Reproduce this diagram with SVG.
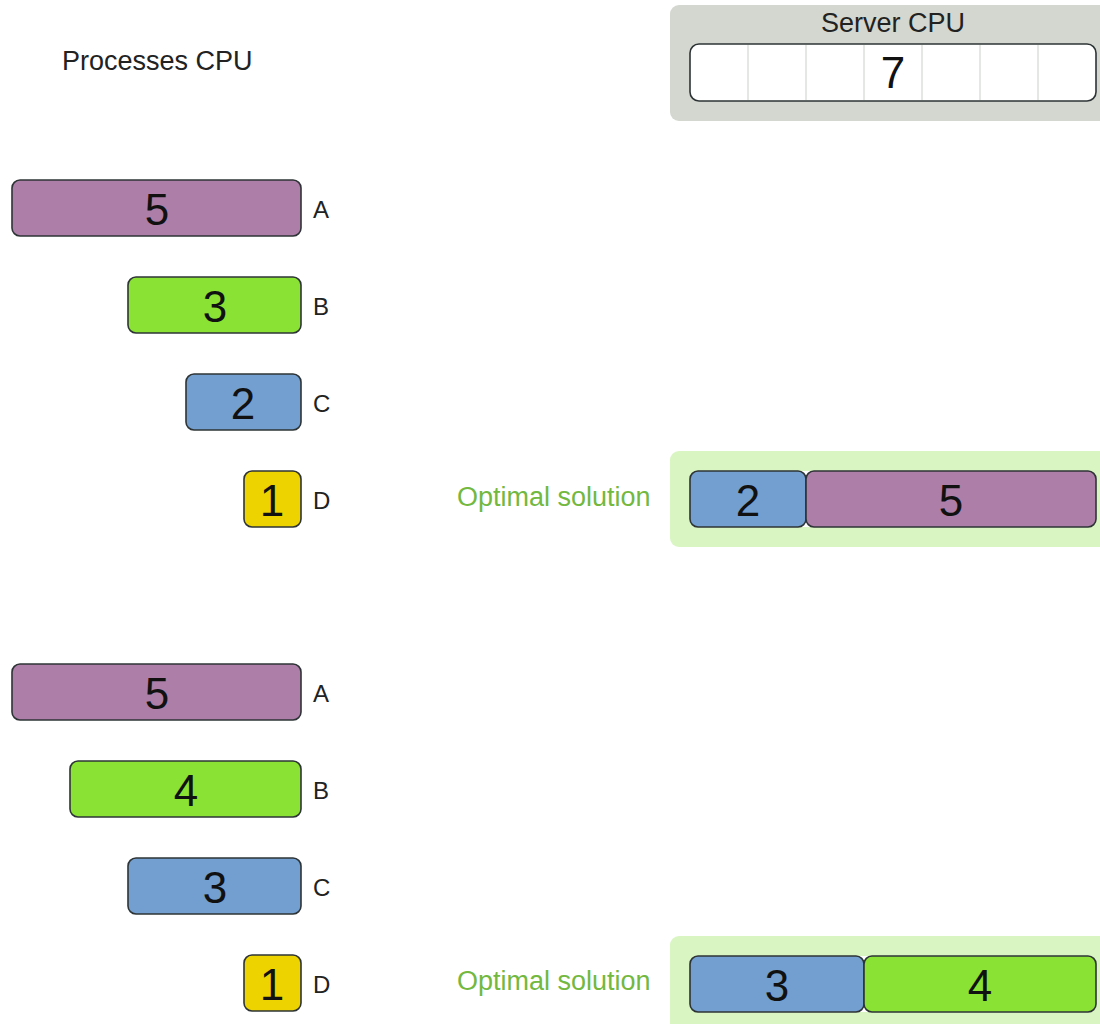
<svg xmlns="http://www.w3.org/2000/svg" width="1100" height="1024" viewBox="0 0 1100 1024">
  <style>
    text { font-family: "Liberation Sans", Arial, sans-serif; }
    .title { font-size: 27px; fill: #222; }
    .num { font-size: 44px; fill: #111; text-anchor: middle; }
    .lbl { font-size: 24px; fill: #222; }
    .opt { font-size: 27px; fill: #73b83f; }
    .bar { stroke: #2e3436; stroke-width: 1.6; }
    .a { fill: #ad7fa8; }
    .b { fill: #8ae234; }
    .c { fill: #729fcf; }
    .d { fill: #edd400; }
    .cell { stroke: #d3d7cf; stroke-width: 1.2; }
  </style>

  <rect width="1100" height="1024" fill="#ffffff"/>

  <!-- headings -->
  <text class="title" x="62" y="70">Processes CPU</text>

  <!-- server capacity: 7 units of 58px -->
  <g id="server">
    <rect x="670" y="5" width="450" height="116" rx="9" fill="#d3d7cf"/>
    <text class="title" x="893" y="32" text-anchor="middle">Server CPU</text>
    <rect x="690" y="44" width="406" height="57" rx="9" fill="#ffffff"/>
    <g class="cell">
      <line x1="748" y1="45" x2="748" y2="100"/>
      <line x1="806" y1="45" x2="806" y2="100"/>
      <line x1="864" y1="45" x2="864" y2="100"/>
      <line x1="922" y1="45" x2="922" y2="100"/>
      <line x1="980" y1="45" x2="980" y2="100"/>
      <line x1="1038" y1="45" x2="1038" y2="100"/>
    </g>
    <rect class="bar" x="690" y="44" width="406" height="57" rx="9" fill="none"/>
    <text class="num" x="893" y="88">7</text>
  </g>

  <!-- first data set -->
  <g id="proc1-a">
    <rect class="bar a" x="12" y="180" width="289" height="56" rx="8"/>
    <text class="num" x="157" y="225">5</text>
    <text class="lbl" x="313" y="218">A</text>
  </g>
  <g id="proc1-b">
    <rect class="bar b" x="128" y="277" width="173" height="56" rx="8"/>
    <text class="num" x="215" y="322">3</text>
    <text class="lbl" x="313" y="315">B</text>
  </g>
  <g id="proc1-c">
    <rect class="bar c" x="186" y="374" width="115" height="56" rx="8"/>
    <text class="num" x="243" y="419">2</text>
    <text class="lbl" x="313" y="412">C</text>
  </g>
  <g id="proc1-d">
    <rect class="bar d" x="244" y="471" width="57" height="56" rx="8"/>
    <text class="num" x="272" y="516">1</text>
    <text class="lbl" x="313" y="509">D</text>
  </g>

  <g id="solution1">
    <text class="opt" x="457" y="506">Optimal solution</text>
    <rect x="670" y="451" width="450" height="96" rx="9" fill="#d9f5c2"/>
    <rect x="800" y="471" width="12" height="56" fill="#ffffff"/>
    <rect class="bar c" x="690" y="471" width="116" height="56" rx="8"/>
    <rect class="bar a" x="806" y="471" width="290" height="56" rx="8"/>
    <text class="num" x="748" y="516">2</text>
    <text class="num" x="951" y="516">5</text>
  </g>

  <!-- second data set -->
  <g id="proc2-a">
    <rect class="bar a" x="12" y="664" width="289" height="56" rx="8"/>
    <text class="num" x="157" y="709">5</text>
    <text class="lbl" x="313" y="702">A</text>
  </g>
  <g id="proc2-b">
    <rect class="bar b" x="70" y="761" width="231" height="56" rx="8"/>
    <text class="num" x="186" y="806">4</text>
    <text class="lbl" x="313" y="799">B</text>
  </g>
  <g id="proc2-c">
    <rect class="bar c" x="128" y="858" width="173" height="56" rx="8"/>
    <text class="num" x="215" y="903">3</text>
    <text class="lbl" x="313" y="896">C</text>
  </g>
  <g id="proc2-d">
    <rect class="bar d" x="244" y="955" width="57" height="56" rx="8"/>
    <text class="num" x="272" y="1000">1</text>
    <text class="lbl" x="313" y="993">D</text>
  </g>

  <g id="solution2">
    <text class="opt" x="457" y="990">Optimal solution</text>
    <rect x="670" y="936" width="450" height="100" rx="9" fill="#d9f5c2"/>
    <rect x="858" y="956" width="12" height="56" fill="#ffffff"/>
    <rect class="bar c" x="690" y="956" width="174" height="56" rx="8"/>
    <rect class="bar b" x="864" y="956" width="232" height="56" rx="8"/>
    <text class="num" x="777" y="1001">3</text>
    <text class="num" x="980" y="1001">4</text>
  </g>

  <!-- no connectors in this chart -->
  <g id="connectors"/>
</svg>
